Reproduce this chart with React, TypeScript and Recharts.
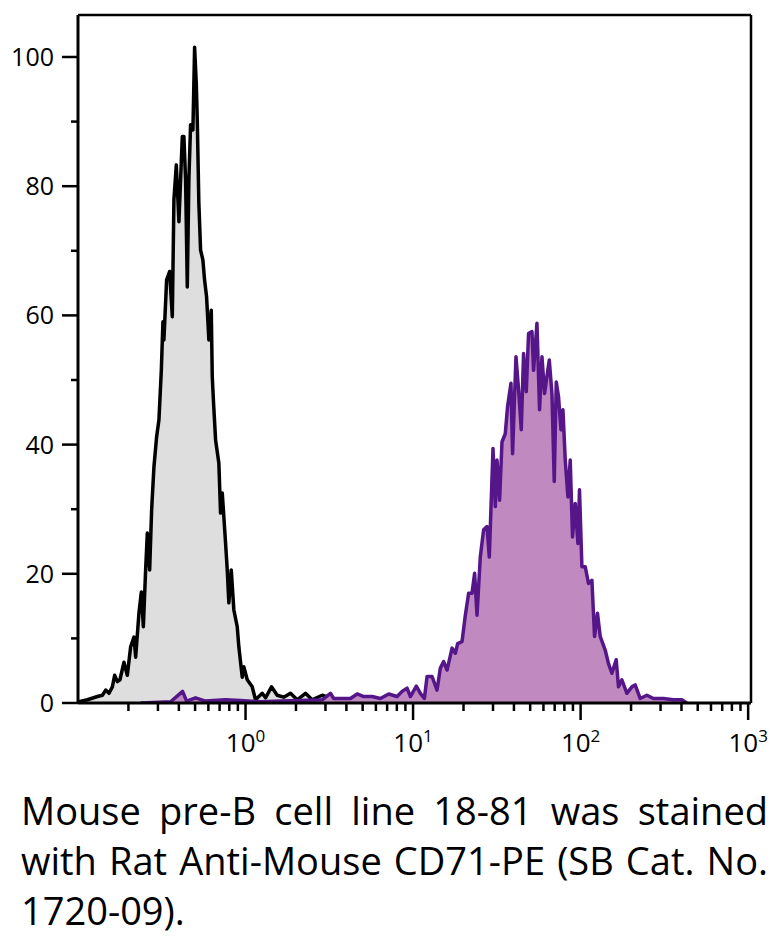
import { ComposedChart, Area, XAxis, YAxis, ReferenceLine } from 'recharts';

// control (unstained) histogram: [channel value, % of max]
const controlHist: [number, number][] = [
  [0.1014, 0.2], [0.1138, 0.5], [0.1306, 1.0], [0.1398, 1.2], [0.1463, 2.0], [0.1531, 1.5],
  [0.1604, 2.5], [0.1655, 4.3], [0.1717, 3.3], [0.178, 3.6], [0.188, 6.3], [0.197, 4.3],
  [0.2062, 8.7], [0.2158, 10.2], [0.2209, 7.1], [0.2311, 13.9], [0.2388, 17.2], [0.2455, 11.8],
  [0.2533, 20.6], [0.2593, 26.3], [0.2677, 20.6], [0.2751, 29.9], [0.2839, 36.5], [0.2946, 41.2],
  [0.3041, 43.8], [0.3143, 51.5], [0.3213, 59.0], [0.3257, 56.2], [0.338, 65.5], [0.3522, 66.8],
  [0.3655, 59.8], [0.3737, 77.9], [0.3862, 83.3], [0.3948, 77.9], [0.4003, 74.5], [0.4194, 87.7],
  [0.4287, 87.7], [0.4387, 81.0], [0.4491, 64.4], [0.459, 81.0], [0.4699, 89.5], [0.4851, 88.7],
  [0.4966, 101.5], [0.5082, 95.9], [0.5152, 90.2], [0.5266, 77.3], [0.5391, 70.1], [0.5564, 68.6],
  [0.5695, 65.5], [0.5853, 62.9], [0.6042, 56.2], [0.6244, 60.8], [0.633, 50.5], [0.6445, 46.4],
  [0.6626, 40.7], [0.6931, 37.1], [0.7094, 29.4], [0.7263, 32.5], [0.7599, 24.8], [0.7777, 20.6],
  [0.795, 15.5], [0.8216, 20.6], [0.8516, 14.4], [0.8923, 11.8], [0.9121, 8.7], [0.9557, 4.0],
  [0.977, 5.6], [1.024, 3.6], [1.096, 2.5], [1.147, 0.5], [1.258, 1.5], [1.316, 0.8],
  [1.429, 2.5], [1.545, 1.2], [1.692, 0.9], [1.855, 1.5], [2.034, 0.5], [2.279, 1.5],
  [2.499, 0.5], [2.867, 1.2], [3.213, 0.8], [3.686, 0],
];

// CD71-PE stained histogram
const stainedHist: [number, number][] = [
  [0.2365, 0], [0.3571, 0.2], [0.421, 1.8], [0.4448, 0.3], [0.5032, 0.8], [0.5774, 0.3],
  [0.7599, 0.5], [0.9337, 0.4], [1.229, 0.2], [1.617, 0.3], [2.128, 0.4], [2.867, 0.5],
  [3.213, 1.5], [3.361, 0.7], [3.857, 0.7], [4.227, 0.7], [4.636, 1.4], [5.076, 1.0],
  [5.693, 1.0], [6.383, 0.7], [7.153, 1.4], [8.028, 1.0], [8.6, 1.8], [9.21, 2.3],
  [9.636, 1.0], [10.46, 2.6], [11.05, 1.5], [11.68, 0.7], [12.12, 4.1], [12.98, 4.1],
  [13.9, 2.0], [14.55, 5.4], [15.22, 6.4], [15.95, 5.1], [17.09, 8.5], [17.88, 7.7],
  [18.45, 9.2], [19.6, 9.5], [20.51, 13.6], [21.46, 17.0], [22.48, 17.0], [23.3, 20.1],
  [24.08, 13.6], [25.19, 22.6], [26.36, 26.8], [27.62, 27.3], [28.51, 22.6], [30.0, 39.4],
  [30.96, 30.4], [31.69, 37.6], [32.84, 31.4], [33.94, 40.4], [35.51, 41.7], [36.65, 45.9],
  [38.4, 49.5], [39.25, 38.6], [41.13, 53.6], [42.63, 48.5], [44.24, 42.3], [45.66, 54.1],
  [47.38, 48.2], [48.9, 57.2], [51.24, 57.5], [52.38, 51.5], [54.88, 58.8], [56.88, 45.4],
  [58.79, 53.6], [60.93, 47.9], [65.0, 53.1], [67.45, 47.9], [69.61, 34.3], [71.55, 49.7],
  [73.84, 47.4], [76.31, 42.3], [78.44, 45.4], [80.96, 37.6], [84.02, 31.9], [86.7, 37.6],
  [89.48, 25.7], [92.86, 30.9], [96.36, 24.7], [98.49, 33.0], [101.8, 21.1], [106.5, 21.1],
  [111.5, 18.5], [116.8, 19.0], [121.1, 10.3], [126.1, 13.9], [130.9, 10.3], [140.2, 8.2],
  [146.7, 6.1], [153.7, 4.6], [163.1, 6.7], [168.3, 2.5], [176.3, 3.6], [188.9, 1.5],
  [202.3, 2.5], [211.7, 2.8], [226.7, 0.7], [248.5, 1.2], [272.1, 0.7], [312.1, 0.7],
  [358.1, 0.5], [401.9, 0.5], [430.5, 0],
];

const xMajorTicks = [1, 10, 100, 1000];
const xMinorTicks = [
  0.2, 0.3, 0.4, 0.5, 0.6, 0.7, 0.8, 0.9,
  2, 3, 4, 5, 6, 7, 8, 9,
  20, 30, 40, 50, 60, 70, 80, 90,
  200, 300, 400, 500, 600, 700, 800, 900,
];
const yTicks = [0, 10, 20, 30, 40, 50, 60, 70, 80, 90, 100];
const yLabelTicks = [0, 20, 40, 60, 80, 100];

const captionLines = [
  'Mouse pre-B cell line 18-81 was stained',
  'with Rat Anti-Mouse CD71-PE (SB Cat. No.',
  '1720-09).',
];

const FONT = '"Open Sans", sans-serif';

// merge both histograms onto one x list for the chart
const tableMap = new Map<number, any>();
controlHist.forEach(([x, y]) => tableMap.set(x, { ...(tableMap.get(x) || { x }), control: y }));
stainedHist.forEach(([x, y]) => tableMap.set(x, { ...(tableMap.get(x) || { x }), stained: y }));
const table = [...tableMap.values()].sort((a, b) => a.x - b.x);

const XTick = (props: any) => {
  const { x, y, payload } = props;
  const major = xMajorTicks.includes(payload.value);
  return (
    <g>
      <line x1={x} x2={x} y1={y} y2={y + (major ? 17 : 8)} stroke="#000" strokeWidth={2.5} />
      {major && (
        <text x={x} y={y + 49} textAnchor="middle" fontFamily={FONT} fontSize={26} fill="#000">
          <tspan>10</tspan>
          <tspan dy={-10} fontSize={17}>{Math.round(Math.log10(payload.value))}</tspan>
        </text>
      )}
    </g>
  );
};

const YTick = (props: any) => {
  const { x, y, payload } = props;
  const major = yLabelTicks.includes(payload.value);
  return (
    <g>
      <line x1={x - (major ? 16 : 7)} x2={x} y1={y} y2={y} stroke="#000" strokeWidth={2.5} />
      {major && (
        <text x={x - 24} y={y + 9} textAnchor="end" fontFamily={FONT} fontSize={25} fill="#000">
          {payload.value}
        </text>
      )}
    </g>
  );
};

export default function App() {
  return (
    <div
      style={{
        position: 'fixed',
        left: 0,
        top: 0,
        width: 780,
        height: 936,
        overflow: 'hidden',
        background: '#fff',
      }}
    >
      <ComposedChart width={780} height={770} data={table} margin={{ top: 15, right: 29, bottom: 0, left: 0 }}>
        <XAxis
          dataKey="x"
          type="number"
          scale="log"
          domain={[0.1, 1040]}
          allowDataOverflow
          ticks={[...xMinorTicks, ...xMajorTicks]}
          interval={0}
          tick={<XTick />}
          tickSize={0}
          tickMargin={0}
          tickLine={false}
          height={67}
          axisLine={{ stroke: '#000', strokeWidth: 3 }}
        />
        <YAxis
          type="number"
          domain={[0, 106.5]}
          allowDataOverflow
          ticks={yTicks}
          interval={0}
          tick={<YTick />}
          tickSize={0}
          tickMargin={0}
          tickLine={false}
          width={78}
          axisLine={{ stroke: '#000', strokeWidth: 3 }}
        />
        <Area
          dataKey="control"
          type="linear"
          stroke="#000"
          strokeWidth={3.5}
          strokeLinejoin="round"
          fill="#dedede"
          fillOpacity={1}
          connectNulls
          dot={false}
          activeDot={false}
          isAnimationActive={false}
        />
        <Area
          dataKey="stained"
          type="linear"
          stroke="#55168a"
          strokeWidth={3.5}
          strokeLinejoin="round"
          fill="#c08ac0"
          fillOpacity={1}
          connectNulls
          dot={false}
          activeDot={false}
          isAnimationActive={false}
        />
        <ReferenceLine y={106.5} stroke="#000" strokeWidth={2.5} />
        <ReferenceLine x={1040} stroke="#000" strokeWidth={2.5} />
      </ComposedChart>
      <div
        style={{
          position: 'absolute',
          left: 21,
          top: 785,
          width: 747,
          fontFamily: FONT,
          fontSize: 38,
          lineHeight: '50px',
          color: '#000',
        }}
      >
        {captionLines.map((line, i) => (
          <div
            key={i}
            style={{
              textAlign: i < captionLines.length - 1 ? 'justify' : 'left',
              textAlignLast: i < captionLines.length - 1 ? 'justify' : 'left',
            }}
          >
            {line}
          </div>
        ))}
      </div>
    </div>
  );
}
